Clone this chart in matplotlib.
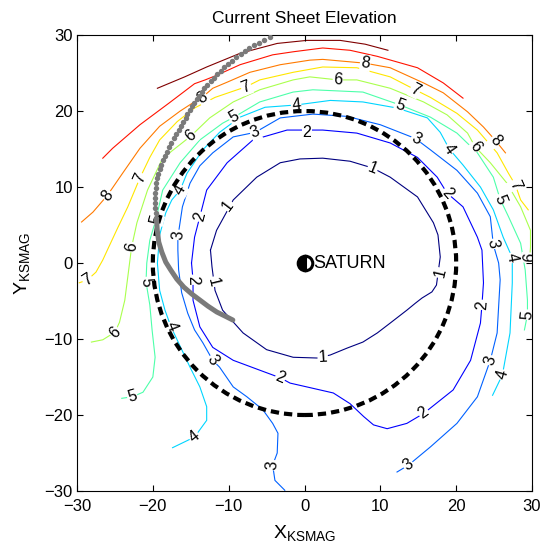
import numpy as np
import matplotlib
matplotlib.use('Agg')
import matplotlib.pyplot as plt
from matplotlib.patches import Circle

plt.rcParams['font.family'] = ['Liberation Sans', 'DejaVu Sans']

# contour levels of the current sheet elevation (R_S)
levels = [1, 2, 3, 4, 5, 6, 7, 8, 9, 10]

# contour lines (KSMAG x, y in R_S)
lev1_x = [-12.4, -12.2, -11.8, -10.8, -8.1, -5.0, -1.5, 1.7, 3.4, 5.6, 7.7, 9.6, 11.3, 13.5, 14.6, 15.5,
          16.8, 17.4, 17.9, 17.6, 17.0, 14.9, 11.3, 9.0, 6.0, 2.4, -0.6, -3.2, -6.3, -9.4, -11.6, -12.4]
lev1_y = [1.7, -0.5, -3.6, -6.2, -9.2, -11.4, -12.4, -12.5, -12.1, -11.2, -10.4, -9.2, -7.9, -6.2, -5.3, -4.6,
          -3.8, -2.9, 0.8, 3.7, 5.3, 8.7, 11.3, 12.5, 13.4, 13.8, 13.7, 13.2, 11.3, 8.3, 4.3, 1.7]

lev2_x = [-14.9, -14.7, -14.7, -13.8, -12.1, -9.4, -5.9, -3.2, -1.9, 0.3, 3.8, 6.0, 7.8, 9.1, 10.9, 13.5,
          15.7, 19.6, 21.9, 23.2, 23.4, 23.6, 23.4, 22.8, 20.9, 18.8, 17.5, 14.9, 11.3, 6.9, 2.4, -0.6,
          -2.3, -6.8, -10.2, -12.9, -13.8, -14.5, -14.9]
lev2_y = [0.0, -2.2, -4.9, -8.4, -11.1, -12.8, -14.1, -15.1, -15.8, -16.3, -17.1, -18.5, -20.2, -21.3, -21.8, -21.1,
          -19.8, -16.7, -12.8, -7.9, -5.5, -2.6, 1.7, 3.4, 7.4, 9.2, 11.3, 13.9, 15.8, 17.1, 17.5, 17.5,
          17.5, 16.2, 13.2, 9.6, 6.1, 3.4, 0.0]

lev3_x = [-2.6, -3.9, -4.2, -3.6, -3.5, -4.2, -5.5, -7.6, -9.4, -11.2, -12.1, -13.4, -14.5, -15.4, -16.2,
          -16.6, -16.7, -16.7, -16.1, -15.1, -13.8, -12.1, -9.4, -6.5, -3.2, 1.1, 5.6, 10.0, 14.6, 16.6,
          20.1, 22.8, 24.5, 24.9, 25.6, 25.8, 25.4, 24.5, 22.8, 20.1, 16.6, 13.7, 12.2]
lev3_y = [-29.9, -28.6, -26.6, -25.0, -22.4, -21.1, -19.3, -17.6, -16.3, -13.7, -12.8, -10.5, -8.8, -6.6, -3.9,
          -0.9, 1.7, 3.4, 7.4, 10.5, 12.8, 14.5, 16.6, 17.2, 19.1, 19.6, 19.3, 18.2, 16.4, 14.9,
          12.2, 9.2, 6.1, 2.4, 0.0, -2.2, -9.2, -12.8, -17.6, -21.1, -24.2, -26.6, -27.5]

lev4_x = [-17.4, -14.5, -12.9, -12.9, -13.8, -15.1, -16.8, -17.6, -18.4, -19.1, -19.4, -19.1, -18.3, -17.5,
          -16.4, -15.5, -13.4, -11.2, -8.5, -5.2, -1.1, 3.4, 7.7, 12.2, 16.2, 17.9, 19.1, 20.9, 23.2, 24.9,
          26.2, 27.4, 27.4, 27.1, 26.1, 24.8]
lev4_y = [-24.3, -22.9, -20.7, -18.9, -16.3, -13.7, -10.1, -8.4, -6.2, -3.6, 0.0, 3.7, 6.6, 8.3,
          9.6, 11.8, 14.9, 17.2, 19.2, 20.5, 20.8, 21.4, 21.2, 20.4, 19.1, 17.2, 15.0, 12.9, 10.0, 7.0,
          3.4, 0.7, -2.6, -9.2, -14.7, -17.4]

lev5_x = [-24.1, -22.7, -21.3, -20.0, -19.7, -20.1, -20.4, -20.9, -20.8, -20.4, -19.6, -18.7, -16.4, -13.8,
          -10.8, -9.3, -5.9, -1.5, 1.1, 7.7, 12.6, 16.6, 20.1, 22.8, 24.9, 25.8, 26.9, 28.5, 29.1, 29.4,
          29.4, 29.0]
lev5_y = [-17.8, -17.6, -17.0, -15.0, -12.4, -8.8, -5.5, -2.5, 0.0, 3.0, 5.7, 9.6, 13.2, 16.2,
          18.4, 19.2, 21.2, 22.5, 22.8, 22.5, 20.8, 19.2, 17.1, 14.5, 11.3, 8.4, 6.1, 2.6, -0.9, -4.9,
          -6.8, -8.8]

lev6_x = [-28.1, -26.6, -25.0, -24.4, -23.7, -23.3, -22.8, -22.1, -20.7, -18.8, -17.8, -15.0, -12.5, -9.4,
          -5.9, -1.5, 0.7, 4.4, 6.9, 11.3, 15.7, 18.8, 21.5, 22.5, 24.5, 26.7, 28.5, 29.8, 29.8, 29.7]
lev6_y = [-10.4, -10.1, -9.1, -7.8, -4.9, -1.8, 2.1, 5.3, 9.6, 13.6, 14.5, 16.7, 19.1, 21.2,
          22.8, 24.1, 24.5, 24.1, 24.1, 23.0, 21.2, 19.5, 17.1, 15.3, 13.2, 10.5, 7.4, 4.3, 2.1, 0.7]

lev7_x = [-29.7, -28.6, -27.5, -26.6, -26.0, -24.6, -23.3, -21.7, -20.4, -19.1, -16.8, -14.5, -11.8, -7.7,
          -5.9, -1.5, 2.4, 6.9, 11.3, 14.6, 16.6, 20.1, 22.8, 25.4, 26.9, 27.8, 28.5, 29.5]
lev7_y = [-2.6, -2.2, -1.2, 0.4, 1.7, 4.7, 7.4, 11.2, 13.9, 16.2, 18.6, 20.4, 21.8, 23.2,
          24.1, 25.1, 25.8, 25.7, 24.5, 22.8, 21.8, 19.7, 17.5, 14.5, 11.8, 10.3, 8.3, 7.0]

lev8_x = [-29.4, -27.9, -26.0, -24.0, -21.7, -19.1, -16.4, -14.7, -13.5, -12.1, -10.2, -7.2, -3.2, 0.7,
          2.4, 8.0, 11.3, 15.7, 18.3, 21.5, 23.6, 25.2, 26.5]
lev8_y = [5.4, 6.7, 8.9, 11.8, 15.1, 18.0, 20.0, 21.1, 21.8, 23.0, 23.8, 25.1, 26.1, 26.7,
          26.8, 26.3, 25.7, 23.7, 22.4, 19.9, 17.9, 16.1, 14.5]

lev9_x = [-26.6, -25.3, -21.7, -17.8, -14.5, -13.1, -11.6, -8.5, -4.2, -1.5, 2.4, 6.0, 9.6, 14.9, 18.3, 20.9]
lev9_y = [13.8, 15.1, 18.2, 21.1, 23.6, 24.1, 24.7, 26.1, 27.4, 27.8, 28.3, 28.0, 27.2, 25.7, 23.7, 21.7]

lev10_x = [-19.4, -15.8, -12.9, -8.5, -3.6, 0.3, 4.7, 8.0, 11.0]
lev10_y = [23.0, 24.5, 25.8, 27.6, 28.9, 29.3, 29.3, 28.8, 28.0]

# contour labels (level, position)
label_level = [1, 1, 1, 1, 1,
               2, 2, 2, 2, 2, 2, 2,
               3, 3, 3, 3, 3, 3, 3, 3,
               4, 4, 4, 4, 4, 4, 4,
               5, 5, 5, 5, 5, 5, 5,
               6, 6, 6, 6, 6, 6,
               7, 7, 7, 7, 7,
               8, 8, 8, 8]
label_x = [-10.1, 9.0, 17.9, 2.4, -12.1,
           -13.8, 0.3, 18.8, 23.4, 15.7, -3.2, -14.7,
           -16.6, -6.5, 14.7, 24.8, 24.5, 13.7, -12.1, -4.2,
           -14.5, -17.6, -16.4, -1.1, 19.1, 27.4, 26.1,
           -22.7, -20.9, -19.6, -9.3, 12.6, 25.8, 29.4,
           -25.0, -22.8, -15.0, 4.4, 22.5, 29.7,
           -28.6, -21.7, -7.7, 14.6, 27.8,
           -26.0, -13.5, 8.0, 25.2]
label_y = [7.6, 12.5, -1.3, -12.4, -2.5,
           6.1, 17.2, 9.2, -5.5, -19.7, -15.1, -2.2,
           3.7, 17.2, 16.3, 2.5, -12.8, -26.6, -12.8, -26.6,
           -22.9, -8.4, 9.6, 20.8, 15.0, 0.7, -14.7,
           -17.6, -2.5, 5.7, 19.2, 20.8, 8.4, -6.8,
           -9.1, 2.1, 16.7, 24.1, 15.3, 0.7,
           -2.2, 11.2, 23.2, 22.8, 10.3,
           8.9, 21.8, 26.3, 16.1]

# spacecraft track (dotted part, then dense part)
track_x = [-4.56, -5.35, -6.01, -6.67, -7.29, -7.86, -8.43, -9.05, -9.58, -10.07, -10.59, -11.03,
           -11.52, -11.96, -12.39, -12.84, -13.24, -13.58, -13.90, -14.24, -14.56, -14.82, -15.13,
           -15.43, -15.69, -16.01, -16.27, -16.58, -16.88, -17.20, -17.54, -17.86, -18.12, -18.39,
           -18.65, -18.86, -19.09, -19.26, -19.39, -19.52, -19.62, -19.66, -19.71, -19.71, -19.66,
           -19.62, -19.52]
track_y = [29.70, 29.34, 28.99, 28.68, 28.25, 27.89, 27.50, 27.07, 26.62, 26.18, 25.75, 25.30,
           24.87, 24.38, 23.95, 23.42, 22.99, 22.54, 22.01, 21.58, 21.09, 20.66, 20.13,
           19.61, 19.12, 18.59, 18.07, 17.50, 16.97, 16.41, 15.75, 15.22, 14.64, 14.08,
           13.55, 12.89, 12.33, 11.71, 11.14, 10.49, 9.83, 9.17, 8.51, 7.86, 7.20,
           6.54, 5.88]
track2_x = [-19.52, -19.42, -19.22, -18.82, -18.30, -17.64, -16.84, -15.92, -14.86, -13.80, -12.75,
            -11.56, -10.50, -9.45]
track2_y = [5.88, 4.34, 2.76, 1.45, 0.13, -0.92, -2.11, -3.16, -4.08, -4.87, -5.66,
            -6.45, -6.97, -7.50]

ticks = [-30, -20, -10, 0, 10, 20, 30]
ring_radius = 20

lines_x = [lev1_x, lev2_x, lev3_x, lev4_x, lev5_x, lev6_x, lev7_x, lev8_x, lev9_x, lev10_x]
lines_y = [lev1_y, lev2_y, lev3_y, lev4_y, lev5_y, lev6_y, lev7_y, lev8_y, lev9_y, lev10_y]

fig = plt.figure(figsize=(5.4, 5.48), dpi=100)
ax = fig.add_axes([0.1426, 0.104, 0.8426, 0.832])
ax.set_xlim(-30, 30)
ax.set_ylim(-30, 30)

colors = plt.cm.jet(np.linspace(0, 1, len(levels)))
for lev, xs, ys, c in zip(levels, lines_x, lines_y, colors):
    ax.plot(xs, ys, color=c, lw=0.8, zorder=1, solid_joinstyle='round')


# direction of the contour at a label, in screen units
def label_angle(xs, ys, lx, ly):
    pts = ax.transData.transform(np.column_stack([xs, ys]))
    p = ax.transData.transform((lx, ly))
    i = np.argmin(np.hypot(pts[:, 0] - p[0], pts[:, 1] - p[1]))
    a = pts[max(i - 1, 0)]
    b = pts[min(i + 1, len(pts) - 1)]
    ang = np.degrees(np.arctan2(b[1] - a[1], b[0] - a[0]))
    if ang > 90:
        ang -= 180
    if ang < -90:
        ang += 180
    return ang


for lev, lx, ly in zip(label_level, label_x, label_y):
    k = levels.index(lev)
    ang = label_angle(lines_x[k], lines_y[k], lx, ly)
    ax.text(lx, ly, str(lev), fontsize=11.5, rotation=ang, rotation_mode='anchor',
            ha='center', va='center', zorder=2, clip_on=True,
            bbox=dict(boxstyle='square,pad=0.05', fc='white', ec='none'))

# 20 R_S ring
ring = Circle((0, 0), ring_radius, fill=False, ec='black', lw=3, ls=(0, (2.0, 1.2)), zorder=3)
ax.add_patch(ring)

# track
ax.plot(track_x, track_y, 'o', color='#7a7a7a', ms=3.9, mec='none', zorder=4)
ax.plot(track2_x, track2_y, '-', color='#7a7a7a', lw=3.6, solid_capstyle='round', zorder=4)

# Saturn
ax.plot(0, 0, 'o', ms=10.5, mfc='black', mfcalt='white', fillstyle='left', mec='black', mew=2.2, zorder=5)
ax.text(1.2, 0, 'SATURN', fontsize=13, ha='left', va='center', zorder=5)

ax.set_xticks(ticks)
ax.set_yticks(ticks)
ax.tick_params(direction='in', top=True, right=True, length=4.5, width=0.8, labelsize=12, pad=3)
ax.tick_params(axis='x', pad=6)
for s in ax.spines.values():
    s.set_linewidth(0.8)

ax.set_title('Current Sheet Elevation', fontsize=12.5, pad=9)
ax.set_xlabel('$\\mathregular{X_{KSMAG}}$', fontsize=14, labelpad=6)
ax.set_ylabel('$\\mathregular{Y_{KSMAG}}$', fontsize=14, labelpad=9)

fig.savefig('out.png', dpi=100)
